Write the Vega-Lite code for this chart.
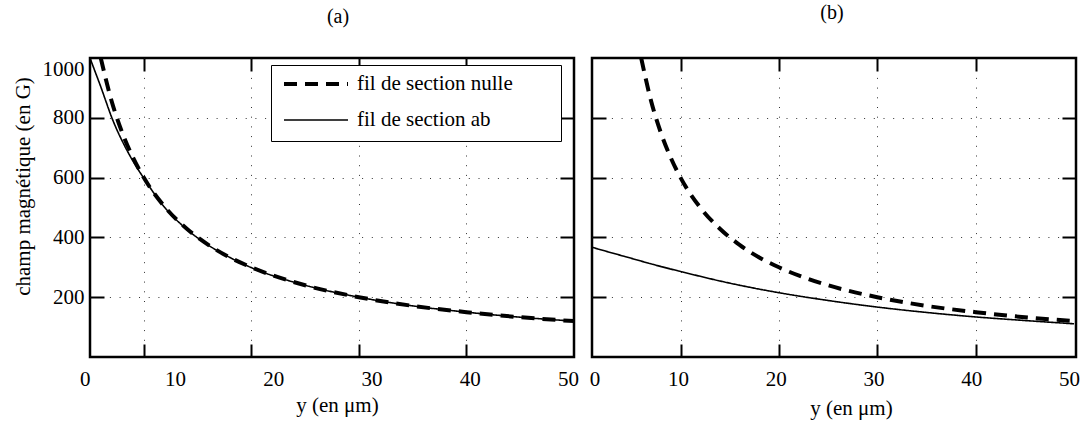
{
  "$schema": "https://vega.github.io/schema/vega-lite/v6.json",
  "autosize": {"type": "pad"},
  "padding": {"left": 10, "top": 2, "right": 12, "bottom": 5},
  "background": "white",
  "data": {"values": [
    {"panel": "a", "serie": "fil de section nulle", "y": 6, "B": 1000},
    {"panel": "a", "serie": "fil de section nulle", "y": 7, "B": 857},
    {"panel": "a", "serie": "fil de section nulle", "y": 8, "B": 750},
    {"panel": "a", "serie": "fil de section nulle", "y": 9, "B": 667},
    {"panel": "a", "serie": "fil de section nulle", "y": 10, "B": 600},
    {"panel": "a", "serie": "fil de section nulle", "y": 12, "B": 500},
    {"panel": "a", "serie": "fil de section nulle", "y": 14, "B": 429},
    {"panel": "a", "serie": "fil de section nulle", "y": 16, "B": 375},
    {"panel": "a", "serie": "fil de section nulle", "y": 18, "B": 333},
    {"panel": "a", "serie": "fil de section nulle", "y": 20, "B": 300},
    {"panel": "a", "serie": "fil de section nulle", "y": 25, "B": 240},
    {"panel": "a", "serie": "fil de section nulle", "y": 30, "B": 200},
    {"panel": "a", "serie": "fil de section nulle", "y": 35, "B": 171},
    {"panel": "a", "serie": "fil de section nulle", "y": 40, "B": 150},
    {"panel": "a", "serie": "fil de section nulle", "y": 45, "B": 133},
    {"panel": "a", "serie": "fil de section nulle", "y": 50, "B": 120},
    {"panel": "a", "serie": "fil de section ab", "y": 5, "B": 1000},
    {"panel": "a", "serie": "fil de section ab", "y": 5.5, "B": 952},
    {"panel": "a", "serie": "fil de section ab", "y": 6, "B": 904},
    {"panel": "a", "serie": "fil de section ab", "y": 6.5, "B": 853},
    {"panel": "a", "serie": "fil de section ab", "y": 7, "B": 803},
    {"panel": "a", "serie": "fil de section ab", "y": 7.5, "B": 760},
    {"panel": "a", "serie": "fil de section ab", "y": 8, "B": 722},
    {"panel": "a", "serie": "fil de section ab", "y": 9, "B": 655},
    {"panel": "a", "serie": "fil de section ab", "y": 10, "B": 598},
    {"panel": "a", "serie": "fil de section ab", "y": 12, "B": 498},
    {"panel": "a", "serie": "fil de section ab", "y": 14, "B": 427},
    {"panel": "a", "serie": "fil de section ab", "y": 16, "B": 374},
    {"panel": "a", "serie": "fil de section ab", "y": 18, "B": 333},
    {"panel": "a", "serie": "fil de section ab", "y": 20, "B": 299},
    {"panel": "a", "serie": "fil de section ab", "y": 25, "B": 240},
    {"panel": "a", "serie": "fil de section ab", "y": 30, "B": 200},
    {"panel": "a", "serie": "fil de section ab", "y": 35, "B": 171},
    {"panel": "a", "serie": "fil de section ab", "y": 40, "B": 150},
    {"panel": "a", "serie": "fil de section ab", "y": 45, "B": 133},
    {"panel": "a", "serie": "fil de section ab", "y": 50, "B": 120},
    {"panel": "b", "serie": "fil de section nulle", "y": 6, "B": 1000},
    {"panel": "b", "serie": "fil de section nulle", "y": 7, "B": 857},
    {"panel": "b", "serie": "fil de section nulle", "y": 8, "B": 750},
    {"panel": "b", "serie": "fil de section nulle", "y": 9, "B": 667},
    {"panel": "b", "serie": "fil de section nulle", "y": 10, "B": 600},
    {"panel": "b", "serie": "fil de section nulle", "y": 12, "B": 500},
    {"panel": "b", "serie": "fil de section nulle", "y": 14, "B": 429},
    {"panel": "b", "serie": "fil de section nulle", "y": 16, "B": 375},
    {"panel": "b", "serie": "fil de section nulle", "y": 18, "B": 333},
    {"panel": "b", "serie": "fil de section nulle", "y": 20, "B": 300},
    {"panel": "b", "serie": "fil de section nulle", "y": 25, "B": 240},
    {"panel": "b", "serie": "fil de section nulle", "y": 30, "B": 200},
    {"panel": "b", "serie": "fil de section nulle", "y": 35, "B": 171},
    {"panel": "b", "serie": "fil de section nulle", "y": 40, "B": 150},
    {"panel": "b", "serie": "fil de section nulle", "y": 45, "B": 133},
    {"panel": "b", "serie": "fil de section nulle", "y": 50, "B": 120},
    {"panel": "b", "serie": "fil de section ab", "y": 1, "B": 367},
    {"panel": "b", "serie": "fil de section ab", "y": 2.5, "B": 353},
    {"panel": "b", "serie": "fil de section ab", "y": 5, "B": 330},
    {"panel": "b", "serie": "fil de section ab", "y": 7.5, "B": 307},
    {"panel": "b", "serie": "fil de section ab", "y": 10, "B": 286},
    {"panel": "b", "serie": "fil de section ab", "y": 15, "B": 247},
    {"panel": "b", "serie": "fil de section ab", "y": 20, "B": 215},
    {"panel": "b", "serie": "fil de section ab", "y": 25, "B": 189},
    {"panel": "b", "serie": "fil de section ab", "y": 30, "B": 167},
    {"panel": "b", "serie": "fil de section ab", "y": 35, "B": 149},
    {"panel": "b", "serie": "fil de section ab", "y": 40, "B": 134},
    {"panel": "b", "serie": "fil de section ab", "y": 45, "B": 122},
    {"panel": "b", "serie": "fil de section ab", "y": 50, "B": 111}
  ]},
  "bounds": "flush",
  "spacing": 18,
  "hconcat": [
    {
      "width": 484, "height": 299,
      "title": {"text": "(a)", "anchor": "middle", "frame": "group", "dx": 6, "offset": 28},
      "transform": [{"filter": "datum.panel === 'a'"}],
      "layer": [
        {
          "mark": {"type": "line", "color": "black", "clip": true, "interpolate": "monotone"},
          "encoding": {
            "x": {"field": "y", "type": "quantitative", "scale": {"domain": [5, 50], "nice": false, "zero": false},
                  "axis": {"orient": "bottom", "values": [10, 20, 30, 40], "labels": false, "tickSize": -13, "grid": true, "title": null}},
            "y": {"field": "B", "type": "quantitative", "scale": {"domain": [0, 1000], "nice": false},
                  "axis": {"orient": "left", "values": [200, 400, 600, 800], "labels": false, "tickSize": -14, "grid": true, "title": null}},
            "strokeDash": {"field": "serie", "type": "nominal",
                  "scale": {"domain": ["fil de section nulle", "fil de section ab"], "range": [[13, 8], [1, 0]]},
                  "legend": {"orient": "none", "legendX": 181, "legendY": 7, "title": null, "symbolType": "stroke", "symbolSize": 4096, "symbolStrokeColor": "black", "clipHeight": 16, "rowPadding": 15, "padding": 11, "labelOffset": 7, "strokeColor": "black", "fillColor": "white", "labelLimit": 400, "labelExpr": "datum.label + '\u00a0\u00a0\u00a0\u00a0\u00a0\u00a0\u00a0\u200b'"}},
            "strokeWidth": {"field": "serie", "type": "nominal",
                  "scale": {"domain": ["fil de section nulle", "fil de section ab"], "range": [4, 1.6]},
                  "legend": {"orient": "none", "legendX": 181, "legendY": 7, "title": null, "symbolType": "stroke", "symbolSize": 4096, "symbolStrokeColor": "black", "clipHeight": 16, "rowPadding": 15, "padding": 11, "labelOffset": 7, "strokeColor": "black", "fillColor": "white", "labelLimit": 400, "labelExpr": "datum.label + '\u00a0\u00a0\u00a0\u00a0\u00a0\u00a0\u00a0\u200b'"}}
          }
        },
        {
          "mark": {"type": "point", "opacity": 0},
          "encoding": {
            "x": {"field": "y", "type": "quantitative", "scale": {"domain": [1.35, 50.61], "nice": false, "zero": false},
                  "axis": {"orient": "bottom", "values": [1.35, 10, 20, 30, 40, 50], "labelExpr": "datum.value < 5 ? '0' : format(datum.value, '.0f')", "ticks": false, "grid": false, "labelFlush": false, "labelOverlap": false, "labelAlign": {"condition": {"test": "datum.value < 5", "value": "right"}, "value": "center"}, "labelPadding": 11, "title": "y (en μm)", "titleX": 247, "titleY": 48, "titleAlign": "center", "titleBaseline": "middle"}},
            "y": {"field": "B", "type": "quantitative", "scale": {"domain": [0, 1000], "nice": false},
                  "axis": {"orient": "left", "values": [200, 400, 600, 800, 1000], "format": "d", "ticks": false, "grid": false, "labelPadding": 6, "labelOverlap": false, "labelBaseline": {"condition": {"test": "datum.value >= 1000", "value": "top"}, "value": "middle"}, "title": "champ magnétique (en G)", "titleX": -67, "titleY": 128, "titleAngle": -90, "titleAlign": "center", "titleBaseline": "middle"}}
          }
        },
        {
          "mark": {"type": "point", "opacity": 0},
          "encoding": {
            "x": {"field": "y", "type": "quantitative", "scale": {"domain": [5, 50], "nice": false, "zero": false},
                  "axis": {"orient": "top", "values": [10, 20, 30, 40], "labels": false, "tickSize": -13, "grid": false, "title": null}},
            "y": {"field": "B", "type": "quantitative", "scale": {"domain": [0, 1000], "nice": false},
                  "axis": {"orient": "right", "values": [200, 400, 600, 800], "labels": false, "tickSize": -14, "grid": false, "title": null}}
          }
        }
      ],
      "resolve": {"scale": {"x": "independent", "y": "independent"}}
    },
    {
      "width": 484, "height": 299,
      "title": {"text": "(b)", "anchor": "middle", "frame": "group", "dx": -2, "offset": 32},
      "transform": [{"filter": "datum.panel === 'b'"}],
      "layer": [
        {
          "mark": {"type": "line", "color": "black", "clip": true, "interpolate": "monotone"},
          "encoding": {
            "x": {"field": "y", "type": "quantitative", "scale": {"domain": [1, 50.2], "nice": false, "zero": false},
                  "axis": {"orient": "bottom", "values": [10, 20, 30, 40], "labels": false, "tickSize": -13, "grid": true, "title": null}},
            "y": {"field": "B", "type": "quantitative", "scale": {"domain": [0, 1000], "nice": false},
                  "axis": {"orient": "left", "values": [200, 400, 600, 800], "labels": false, "tickSize": -14, "grid": true, "title": null}},
            "strokeDash": {"field": "serie", "type": "nominal",
                  "scale": {"domain": ["fil de section nulle", "fil de section ab"], "range": [[13, 8], [1, 0]]},
                  "legend": {"orient": "none", "legendX": 180, "legendY": 6, "title": null, "symbolType": "stroke", "symbolSize": 4096, "symbolStrokeColor": "black", "clipHeight": 16, "rowPadding": 15, "padding": 11, "labelOffset": 7, "strokeColor": "black", "fillColor": "white", "labelLimit": 400, "labelExpr": "datum.label + '\u00a0\u00a0\u00a0\u00a0\u00a0\u00a0\u00a0\u200b'"}},
            "strokeWidth": {"field": "serie", "type": "nominal",
                  "scale": {"domain": ["fil de section nulle", "fil de section ab"], "range": [4, 1.6]},
                  "legend": {"orient": "none", "legendX": 180, "legendY": 6, "title": null, "symbolType": "stroke", "symbolSize": 4096, "symbolStrokeColor": "black", "clipHeight": 16, "rowPadding": 15, "padding": 11, "labelOffset": 7, "strokeColor": "black", "fillColor": "white", "labelLimit": 400, "labelExpr": "datum.label + '\u00a0\u00a0\u00a0\u00a0\u00a0\u00a0\u00a0\u200b'"}}
          }
        },
        {
          "mark": {"type": "point", "opacity": 0},
          "encoding": {
            "x": {"field": "y", "type": "quantitative", "scale": {"domain": [1.2, 50.71], "nice": false, "zero": false},
                  "axis": {"orient": "bottom", "values": [1.46, 10, 20, 30, 40, 50], "labelExpr": "datum.value < 5 ? '0' : format(datum.value, '.0f')", "ticks": false, "grid": false, "labelFlush": false, "labelOverlap": false, "labelPadding": 11, "title": "y (en μm)", "titleX": 259, "titleY": 51, "titleAlign": "center", "titleBaseline": "middle"}}
          }
        },
        {
          "mark": {"type": "point", "opacity": 0},
          "encoding": {
            "x": {"field": "y", "type": "quantitative", "scale": {"domain": [1, 50.2], "nice": false, "zero": false},
                  "axis": {"orient": "top", "values": [10, 20, 30, 40], "labels": false, "tickSize": -13, "grid": false, "title": null}},
            "y": {"field": "B", "type": "quantitative", "scale": {"domain": [0, 1000], "nice": false},
                  "axis": {"orient": "right", "values": [200, 400, 600, 800], "labels": false, "tickSize": -14, "grid": false, "title": null}}
          }
        }
      ],
      "resolve": {"scale": {"x": "independent", "y": "independent"}}
    }
  ],
  "config": {
    "font": "Liberation Serif",
    "view": {"stroke": "black", "strokeWidth": 2.5},
    "title": {"font": "Liberation Serif", "fontSize": 20, "fontWeight": "normal", "color": "black"},
    "axis": {"domain": false, "tickColor": "black", "tickWidth": 2, "gridColor": "#333", "gridDash": [1, 8.7], "gridWidth": 1, "gridOpacity": 1,
             "labelFont": "Liberation Serif", "labelFontSize": 21, "labelColor": "black",
             "titleFont": "Liberation Serif", "titleFontSize": 21, "titleFontWeight": "normal", "titleColor": "black"},
    "legend": {"labelFont": "Liberation Serif", "labelFontSize": 21, "labelColor": "black"}
  }
}
